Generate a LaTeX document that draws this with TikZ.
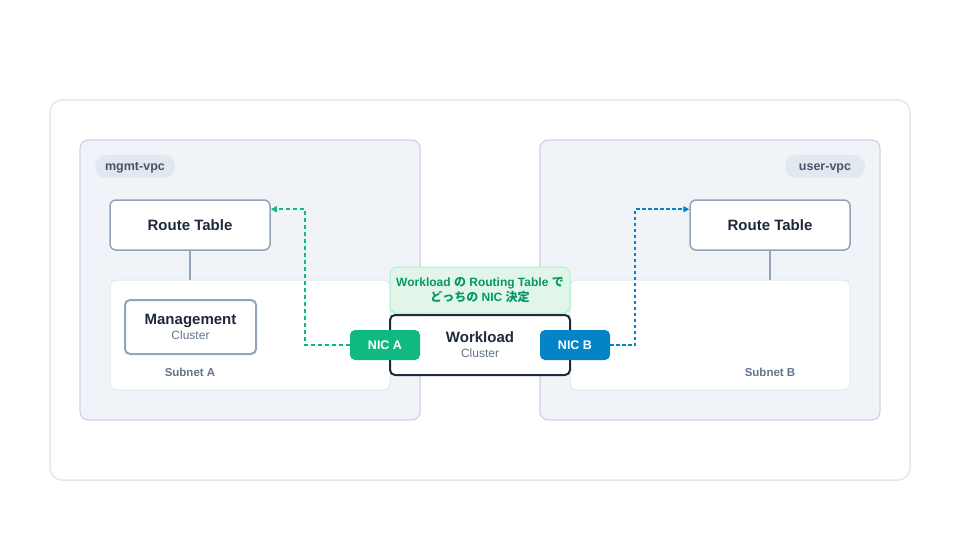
\documentclass[tikz,border=0pt]{standalone}
\usepackage{fontspec}
\setmainfont{Liberation Sans}
\newfontfamily\cjk{Noto Sans CJK JP}
\usetikzlibrary{arrows.meta,calc}
\definecolor{outerline}{HTML}{E2E8F0}
\definecolor{vpcfill}{HTML}{F0F4F9}
\definecolor{vpcline}{HTML}{CBD5E1}
\definecolor{pillfill}{HTML}{E2E8F0}
\definecolor{pilltext}{HTML}{475569}
\definecolor{boxline}{HTML}{94A3B8}
\definecolor{darktext}{HTML}{1E293B}
\definecolor{subtext}{HTML}{64748B}
\definecolor{nicgreen}{HTML}{10B981}
\definecolor{nicblue}{HTML}{0284C7}
\definecolor{notefill}{HTML}{E1F6E9}
\definecolor{noteline}{HTML}{A7F3D0}
\definecolor{notetext}{HTML}{059669}
\tikzset{
  outerbox/.style={draw=outerline, line width=1.5pt, fill=white, rounded corners=12pt, inner sep=0pt},
  vpcbox/.style={draw=vpcline, line width=1.2pt, fill=vpcfill, rounded corners=8pt, inner sep=0pt},
  pill/.style={fill=pillfill, rounded corners=11pt, inner sep=0pt, minimum width=80pt, minimum height=23pt, text height=9pt, text depth=0pt, text=pilltext, font=\fontsize{12.5}{14}\selectfont\bfseries},
  subnetbox/.style={draw=outerline, line width=1pt, fill=white, rounded corners=7pt, inner sep=0pt, minimum width=280pt, minimum height=110pt},
  rtbox/.style={draw=boxline, line width=1.5pt, fill=white, rounded corners=6pt, minimum width=160pt, minimum height=50pt, text=darktext, font=\fontsize{15}{17}\selectfont\bfseries, inner sep=0pt},
  clusterbox/.style={fill=white, rounded corners=5pt, line width=2pt, inner sep=0pt, align=center},
  nicbox/.style={rounded corners=5pt, minimum width=70pt, minimum height=30pt, inner sep=0pt, text=white, font=\fontsize{12.5}{14}\selectfont\bfseries},
  notebox/.style={draw=noteline, line width=1pt, fill=notefill, rounded corners=7pt, minimum width=180pt, minimum height=46pt, inner sep=0pt, align=center, text=notetext, font=\fontsize{12}{15}\selectfont\bfseries},
  sublabel/.style={text=subtext, font=\fontsize{11.5}{13}\selectfont\bfseries, inner sep=0pt},
  linkline/.style={draw=boxline, line width=1.2pt},
  greenarrow/.style={draw=nicgreen, line width=2pt, dash pattern=on 4pt off 3pt, -{Triangle[length=6pt,width=6pt]}},
  bluearrow/.style={draw=nicblue, line width=2pt, dash pattern=on 3.5pt off 2.5pt, -{Triangle[length=6pt,width=6pt]}},
}
\newcommand{\clustertxt}[1]{{\fontsize{15}{17}\selectfont\bfseries\color{darktext}#1}\\[3pt]{\fontsize{12}{13}\selectfont\color{subtext}Cluster}}
\begin{document}
\begin{tikzpicture}[x=1pt,y=-1pt]
\useasboundingbox (0,0) rectangle (960,540);
\node[outerbox, minimum width=860pt, minimum height=380pt] (outer) at (480,290) {};
\node[vpcbox, minimum width=340pt, minimum height=280pt] (mgmtvpc) at (250,280) {};
\node[vpcbox, minimum width=340pt, minimum height=280pt] (uservpc) at (710,280) {};
\node[pill] (mgmtlabel) at (135,166.5) {mgmt-vpc};
\node[pill] (userlabel) at (825,166.5) {user-vpc};
\node[subnetbox] (subA) at (250,335) {};
\node[subnetbox] (subB) at (710,335) {};
\node[sublabel] (subAlabel) at (190,372) {Subnet A};
\node[sublabel] (subBlabel) at (770,372) {Subnet B};
\node[rtbox] (rtA) at (190,225) {Route Table};
\node[rtbox] (rtB) at (770,225) {Route Table};
\draw[linkline] (rtA.south) -- (rtA.south |- subA.north);
\draw[linkline] (rtB.south) -- (rtB.south |- subB.north);
\node[clusterbox, draw=boxline, minimum width=131pt, minimum height=54pt] (mgmt) at (190.5,327) {\clustertxt{Management}};
\node[notebox] (note) at (480,290) {Workload {\cjk の} Routing Table {\cjk で}\\{\cjk どっちの} NIC {\cjk 決定}};
\node[clusterbox, draw=darktext, minimum width=180pt, minimum height=60pt] (work) at (480,345) {\clustertxt{Workload}};
\node[nicbox, fill=nicgreen] (nicA) at (385,345) {NIC A};
\node[nicbox, fill=nicblue] (nicB) at (575,345) {NIC B};
\coordinate (rtAin) at ($(rtA.north east)+(0,10)$);
\coordinate (rtBin) at ($(rtB.north west)+(0,10)$);
\draw[greenarrow] (nicA.west) -- ++(-45,0) |- (rtAin);
\draw[bluearrow] (nicB.east) -- ++(25,0) |- (rtBin);
\end{tikzpicture}
\end{document}
